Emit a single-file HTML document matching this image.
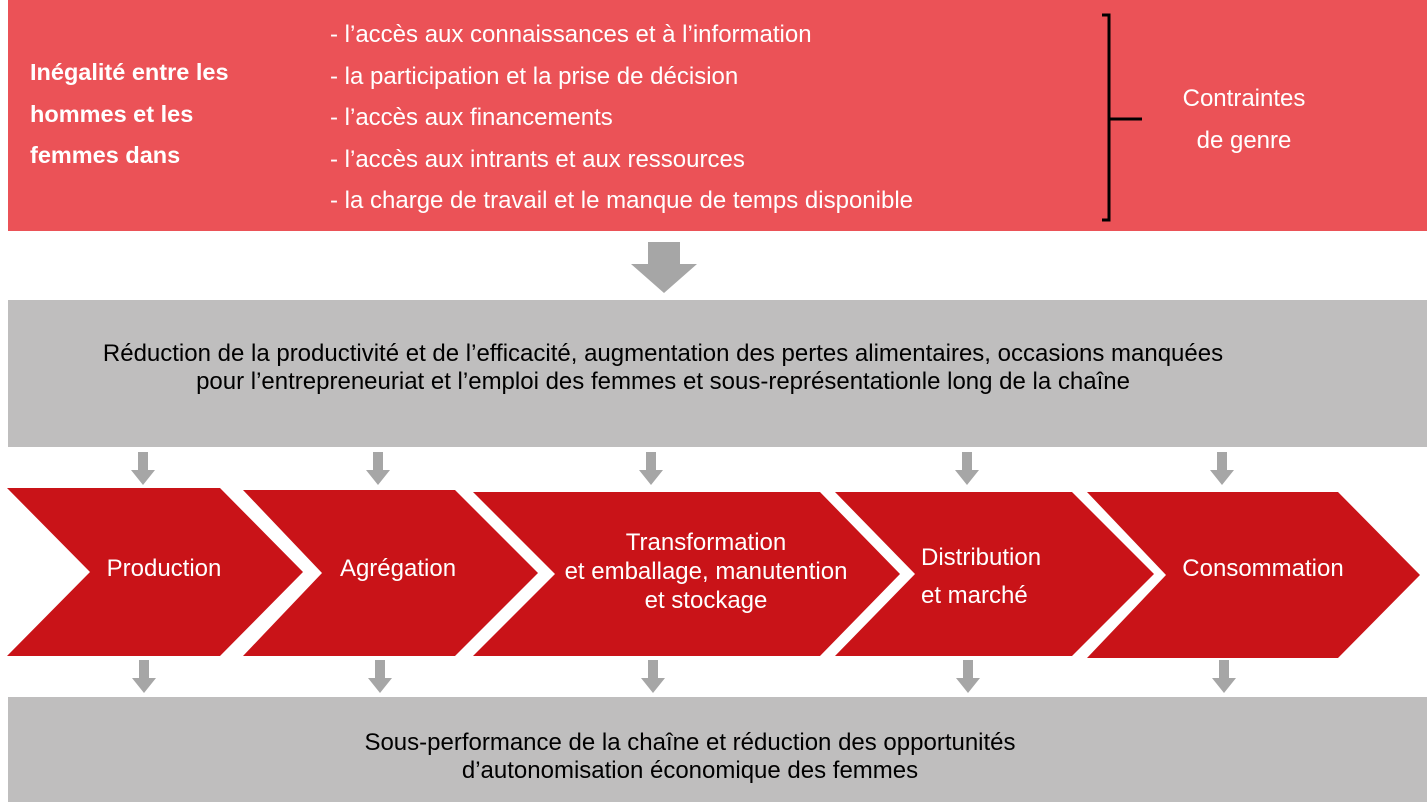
<!DOCTYPE html>
<html><head><meta charset="utf-8"><style>
body{margin:0;width:1427px;height:802px;overflow:hidden;background:#fff;font-family:"Liberation Sans",Arial,sans-serif;}
.a{position:absolute;white-space:nowrap}
</style></head><body>
<svg width="1427" height="802" style="position:absolute;left:0;top:0">
<defs><polygon id="ar" points="-5,0 5,0 5,18 12,18 0,33 -12,18 -5,18"/></defs>
<rect x="8" y="0" width="1419" height="231" fill="#eb5257"/>
<rect x="8" y="300" width="1419" height="147" fill="#bfbebe"/>
<rect x="8" y="697" width="1419" height="105" fill="#bfbebe"/>
<path d="M1102,15 H1109 V220 H1102 M1109,119 H1142" fill="none" stroke="#000" stroke-width="3"/>
<polygon points="648,242 680,242 680,264 697,264 664,293 631,264 648,264" fill="#a6a6a6"/>
<g fill="#a6a6a6">
<use href="#ar" x="143" y="452"/><use href="#ar" x="378" y="452"/><use href="#ar" x="651" y="452"/><use href="#ar" x="967" y="452"/><use href="#ar" x="1222" y="452"/>
<use href="#ar" x="144" y="660"/><use href="#ar" x="380" y="660"/><use href="#ar" x="653" y="660"/><use href="#ar" x="968" y="660"/><use href="#ar" x="1224" y="660"/>
</g>
<g fill="#c91318">
<polygon points="7,488 220,488 303,572 220,656 7,656 90,572"/>
<polygon points="243,490 455,490 538,573 455,656 243,656 322,573"/>
<polygon points="473,492 820,492 900,574 820,656 473,656 555,574"/>
<polygon points="835,492 1072,492 1154,574 1072,656 835,656 915,574"/>
<polygon points="1087,492 1338,492 1420,575 1338,658 1087,658 1166,575"/>
</g>
</svg>
<div class="a" style="left:30px;top:52px;color:#fff;font-weight:bold;font-size:23.5px;line-height:41.5px">Inégalité entre les<br>hommes et les<br>femmes dans</div>
<div class="a" style="left:330px;top:14px;color:#fff;font-size:24px;line-height:41.6px">- l’accès aux connaissances et à l’information<br>- la participation et la prise de décision<br>- l’accès aux financements<br>- l’accès aux intrants et aux ressources<br>- la charge de travail et le manque de temps disponible</div>
<div class="a" style="left:1144px;top:78px;width:200px;text-align:center;color:#fff;font-size:24px;line-height:42px">Contraintes<br>de genre</div>
<div class="a" style="left:13px;top:340px;width:1300px;text-align:center;color:#000;font-size:24px;line-height:28px">Réduction de la productivité et de l’efficacité, augmentation des pertes alimentaires, occasions manquées<br>pour l’entrepreneuriat et l’emploi des femmes et sous-représentationle long de la chaîne</div>
<div class="a" style="left:240px;top:729px;width:900px;text-align:center;color:#000;font-size:24px;line-height:28px">Sous-performance de la chaîne et réduction des opportunités<br>d’autonomisation économique des femmes</div>
<div class="a" style="left:64px;top:555px;width:200px;text-align:center;color:#fff;font-size:24px">Production</div>
<div class="a" style="left:298px;top:555px;width:200px;text-align:center;color:#fff;font-size:24px">Agrégation</div>
<div class="a" style="left:556px;top:528px;width:300px;text-align:center;color:#fff;font-size:24px;line-height:29px">Transformation<br>et emballage, manutention<br>et stockage</div>
<div class="a" style="left:921px;top:539px;color:#fff;font-size:24px;line-height:38px">Distribution<br>et marché</div>
<div class="a" style="left:1163px;top:555px;width:200px;text-align:center;color:#fff;font-size:24px">Consommation</div>
</body></html>
